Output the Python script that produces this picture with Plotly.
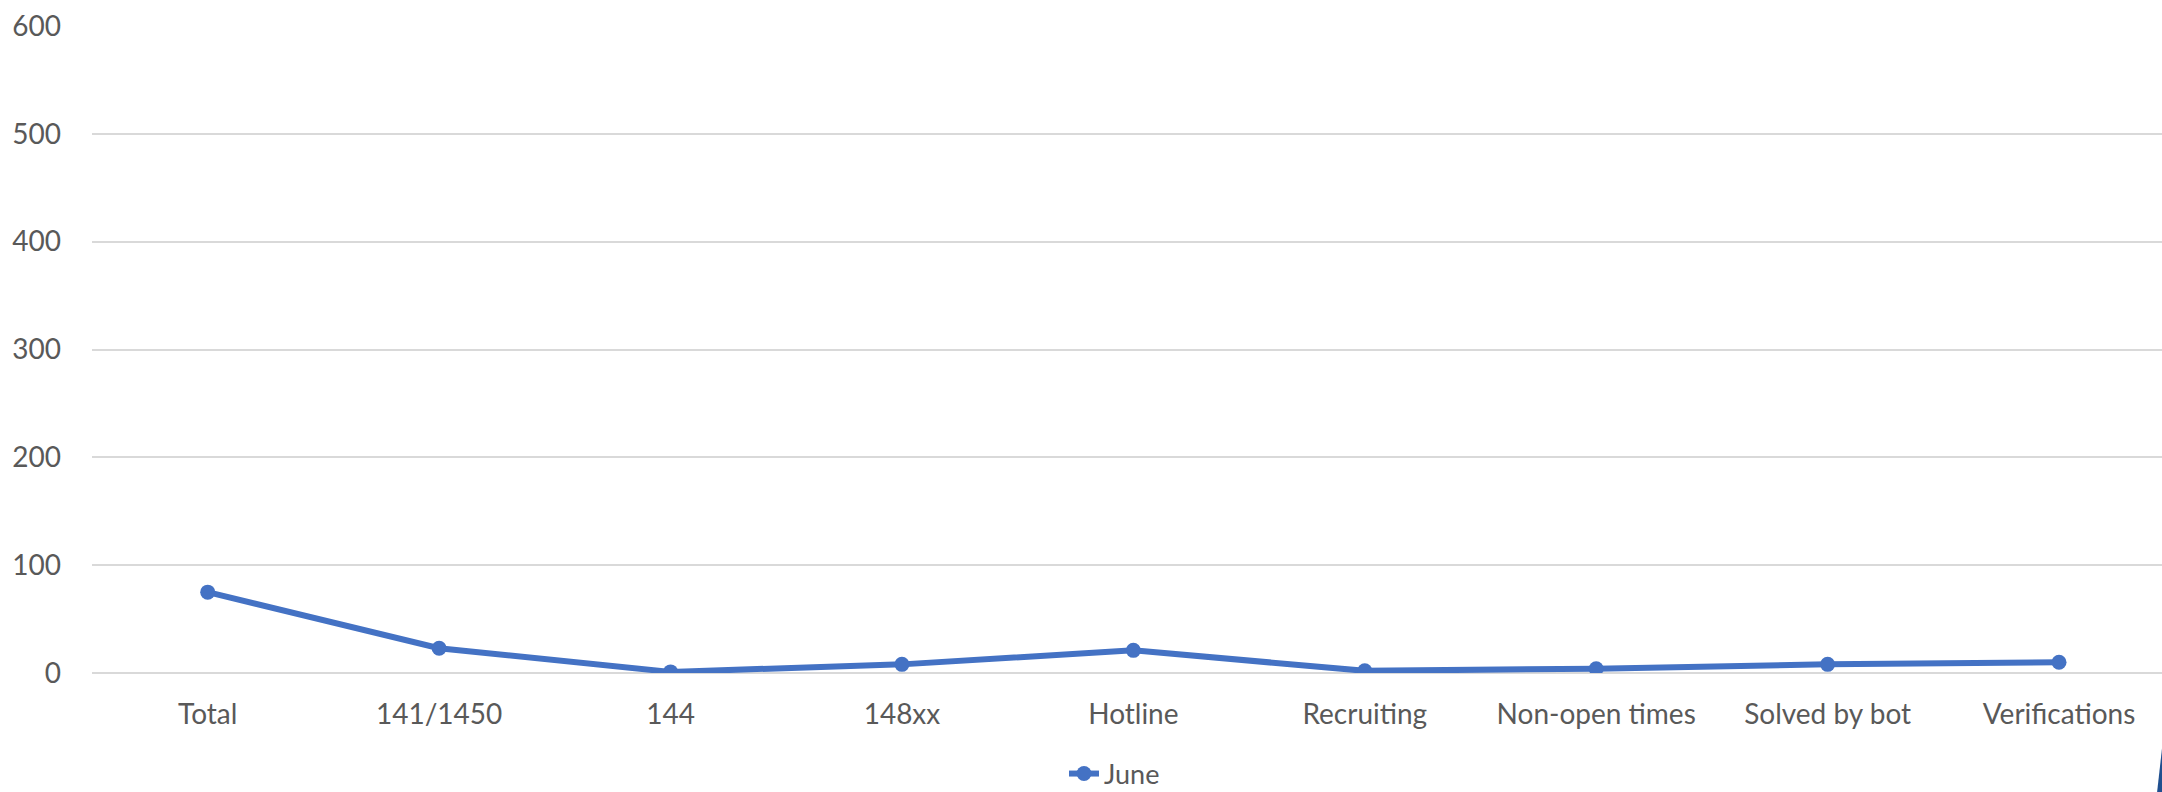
import plotly.graph_objects as go

categories = ["Total", "141/1450", "144", "148xx", "Hotline", "Recruiting",
              "Non-open times", "Solved by bot", "Verifications"]
june = [75, 23, 1, 8, 21, 2, 4, 8, 10]
y_ticks = [0, 100, 200, 300, 400, 500, 600]

W, H = 2162, 792
L, R, T, B = 92, 0, 26, 119
plot_w = W - L - R
plot_h = H - T - B

FONT = "Lato"
TXT = "#595959"
BLUE = "#4472C4"

fig = go.Figure()
fig.add_trace(go.Scatter(
    x=list(range(len(categories))), y=june, name="June",
    mode="lines+markers",
    line=dict(color=BLUE, width=6),
    marker=dict(color=BLUE, size=15),
))

def px_to_paper_x(px):
    return (px - L) / plot_w

def px_to_paper_y(py):
    return (H - B - py) / plot_h

# small decorative artifact at bottom-right corner
x0, x1, x2 = px_to_paper_x(2157), px_to_paper_x(2162.5), px_to_paper_x(2162.5)
y0, y1, y2 = px_to_paper_y(793), px_to_paper_y(744), px_to_paper_y(793)
fig.add_shape(type="path", xref="paper", yref="paper",
              path=f"M {x0} {y0} L {x1} {y1} L {x2} {y2} Z",
              fillcolor="#1f4f8f", line=dict(width=0))

fig.update_layout(
    width=W, height=H,
    margin=dict(l=L, r=R, t=T, b=B, pad=0, autoexpand=False),
    paper_bgcolor="white", plot_bgcolor="white",
    font=dict(family=FONT, size=28, color=TXT),
    showlegend=True,
    legend=dict(orientation="h", xref="container", yref="container",
                x=1064 / W, xanchor="left",
                y=(H - 774) / H, yanchor="middle",
                font=dict(family=FONT, size=27, color=TXT),
                itemwidth=30, bgcolor="rgba(0,0,0,0)"),
    xaxis=dict(
        tickmode="array", tickvals=list(range(len(categories))), ticktext=categories,
        range=[-0.5, 8.445], showgrid=False, zeroline=False, showline=False,
        ticks="", ticklabelstandoff=22, fixedrange=True, automargin=False,
    ),
    yaxis=dict(
        range=[0, 600], tickmode="array", tickvals=y_ticks,
        ticktext=[str(v) for v in y_ticks],
        showgrid=True, gridcolor="#d9d9d9", gridwidth=2,
        zeroline=True, zerolinecolor="#d9d9d9", zerolinewidth=2,
        showline=False, ticks="", ticklabelstandoff=30, fixedrange=True,
        automargin=False,
    ),
)

fig.write_html("out.html")
